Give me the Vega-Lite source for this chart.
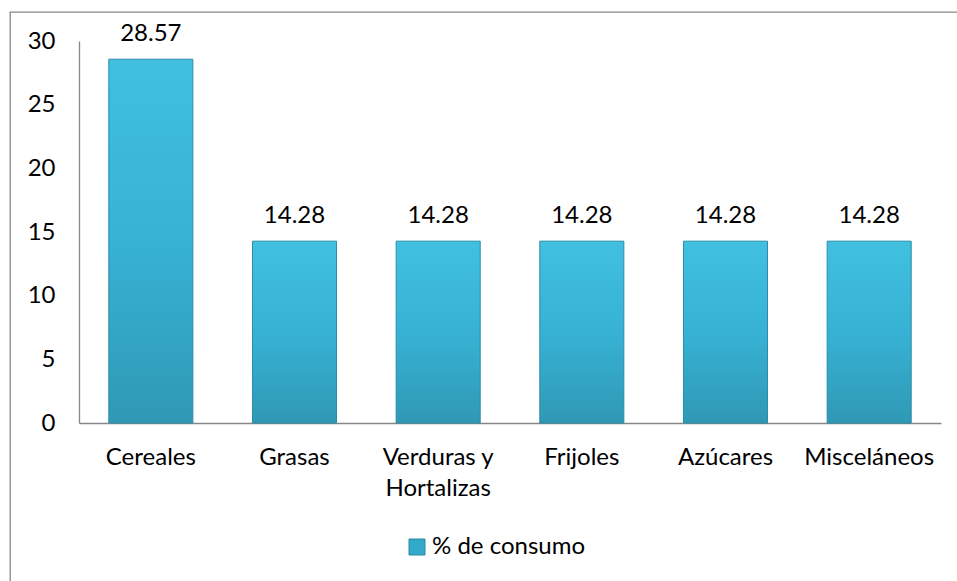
{
  "$schema": "https://vega.github.io/schema/vega-lite/v6.json",
  "width": 950,
  "height": 575,
  "autosize": {"type": "none"},
  "padding": {"left": 10, "top": 12, "right": 0, "bottom": 0},
  "background": "white",
  "config": {
    "view": {"stroke": "#878787", "strokeWidth": 1.3},
    "font": "Lato",
    "axis": {"grid": false, "ticks": false, "domainColor": "#878787", "domainWidth": 1.3, "labelColor": "#000000", "labelFontSize": 24, "labelFont": "Lato", "title": null}
  },
  "data": {"values": [
    {"categoria": "Cereales", "valor": 28.57, "serie": "% de consumo"},
    {"categoria": "Grasas", "valor": 14.28, "serie": "% de consumo"},
    {"categoria": "Verduras y Hortalizas", "valor": 14.28, "serie": "% de consumo"},
    {"categoria": "Frijoles", "valor": 14.28, "serie": "% de consumo"},
    {"categoria": "Azúcares", "valor": 14.28, "serie": "% de consumo"},
    {"categoria": "Misceláneos", "valor": 14.28, "serie": "% de consumo"}
  ]},
  "encoding": {
    "x": {"field": "categoria", "type": "nominal", "sort": null,
      "scale": {"range": [69, 931], "paddingInner": 0.415, "paddingOuter": 0.2075},
      "axis": {"orient": "bottom", "offset": -164, "labelAngle": 0, "labelPadding": 22, "labelLineHeight": 31,
        "labelExpr": "datum.label == 'Verduras y Hortalizas' ? ['Verduras y', 'Hortalizas'] : datum.label"}},
    "y": {"field": "valor", "type": "quantitative",
      "scale": {"domain": [0, 30], "range": [411, 29], "nice": false},
      "axis": {"offset": -69, "values": [0, 5, 10, 15, 20, 25, 30], "labelPadding": 24}}
  },
  "layer": [
    {"mark": {"type": "bar", "fillOpacity": 0, "strokeOpacity": 0},
     "encoding": {"color": {"field": "serie", "type": "nominal", "scale": {"range": ["#33A9C9"]},
       "legend": {"orient": "none", "legendX": 395, "legendY": 523, "title": null, "symbolType": "square", "symbolSize": 256, "symbolOpacity": 1, "symbolStrokeColor": "#2A8AA5", "symbolStrokeWidth": 1, "labelFontSize": 24, "labelColor": "#000000", "labelFont": "Lato", "labelOffset": 3}}}},
    {"mark": {"type": "bar", "stroke": "#2B8CA7", "strokeWidth": 1,
      "fill": {"gradient": "linear", "x1": 0, "y1": 0, "x2": 0, "y2": 1,
        "stops": [{"offset": 0, "color": "#41C0E0"}, {"offset": 0.5, "color": "#37B2D4"}, {"offset": 1, "color": "#2F99B5"}]}}},
    {"mark": {"type": "text", "dy": -18, "baseline": "alphabetic", "fontSize": 24, "font": "Lato", "color": "#000000"},
     "encoding": {"text": {"field": "valor", "type": "quantitative", "format": ".2f"}}}
  ]
}
